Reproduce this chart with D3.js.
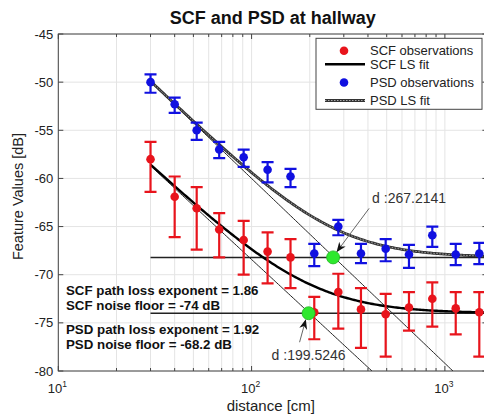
<!DOCTYPE html>
<html><head><meta charset="utf-8">
<script src="https://cdn.jsdelivr.net/npm/d3@7"></script>
<style>body{margin:0;background:#fff;} svg{display:block;font-family:"Liberation Sans",Arial,Helvetica,sans-serif;}</style>
</head><body><svg id="c" width="484" height="416"></svg>
<script>
// ---- data ----
const distances = [30, 40, 52, 68, 91, 121, 159, 211, 281, 368, 494, 652, 861, 1138, 1507];
const scfMean  = [-58.0, -61.9, -63.1, -65.3, -66.4, -67.6, -68.2, -73.9, -71.8, -73.6, -74.1, -73.4, -72.5, -73.5, -73.9];
const scfUpper = [-56.2, -59.8, -60.9, -63.6, -64.4, -65.6, -66.3, -72.3, -69.9, -71.4, -72.0, -71.8, -70.8, -71.8, -71.8];
const scfLower = [-61.4, -66.1, -67.4, -68.2, -70.0, -70.9, -71.4, -76.7, -75.6, -77.6, -78.5, -75.8, -75.4, -76.2, -78.5];
const psdMean  = [-50.0, -52.3, -55.0, -57.0, -57.8, -59.1, -59.8, -67.8, -65.0, -67.8, -67.3, -67.9, -65.9, -67.9, -67.8];
const psdUpper = [-49.2, -51.6, -54.2, -56.2, -57.0, -58.3, -59.0, -66.8, -64.3, -66.8, -66.3, -66.9, -65.0, -66.8, -66.7];
const psdLower = [-51.1, -53.2, -56.0, -57.9, -58.8, -60.4, -60.9, -69.1, -65.9, -68.8, -68.6, -69.3, -67.1, -69.0, -68.9];

const fitExponents   = [1.86, 1.92];        // SCF, PSD
const fitNoiseFloors = [-74, -68.2];        // SCF, PSD
const fitCrossings   = [199.5246, 267.2141];// SCF, PSD

const yTicks = [-80, -75, -70, -65, -60, -55, -50, -45];
const xMajorTicks = [10, 100, 1000];
const xTickExponents = ["1", "2", "3"];
const legendLabels = ["SCF observations", "SCF LS fit", "PSD observations", "PSD LS fit"];
const infoLines = ["SCF path loss exponent = 1.86", "SCF noise floor = -74 dB", "PSD path loss exponent = 1.92", "PSD noise floor = -68.2 dB"];
const crossLabels = ["d :199.5246", "d :267.2141"];

// ---- layout ----
const svg = d3.select("#c");
const L = 58.3, R = 487.4, T = 34, B = 371;
const x = d3.scaleLog().domain([10, Math.pow(10, 3.22)]).range([L, R]);
const y = d3.scaleLinear().domain([-80, -45]).range([B, T]);
const red = "#e8141c", blue = "#1010e0";

svg.append("defs").append("clipPath").attr("id", "clip")
  .append("rect").attr("x", L).attr("y", T).attr("width", R - L).attr("height", B - T);
const mk = svg.select("defs").append("marker").attr("id", "arr").attr("viewBox", "0 0 10 10")
  .attr("refX", 9).attr("refY", 5).attr("markerWidth", 10).attr("markerHeight", 10).attr("orient", "auto")
  .attr("markerUnits", "userSpaceOnUse");
mk.append("path").attr("d", "M0,1 L10,5 L0,9 L3,5 Z").attr("fill", "#111");

// grid
const minor = [];
[10, 100, 1000].forEach(p => { for (let k = 1; k <= 9; k++) { const v = p * k; if (v <= x.domain()[1]) minor.push(v); } });
const grid = svg.append("g");
grid.selectAll(".gx").data(minor).join("line")
  .attr("x1", d => x(d)).attr("x2", d => x(d)).attr("y1", T).attr("y2", B)
  .attr("stroke", "#e4e4e4").attr("stroke-width", 1);
grid.selectAll(".gy").data(yTicks).join("line")
  .attr("x1", L).attr("x2", R).attr("y1", d => y(d)).attr("y2", d => y(d))
  .attr("stroke", "#e4e4e4").attr("stroke-width", 1);

// axes box + ticks
const ax = svg.append("g").attr("stroke", "#444").attr("stroke-width", 1);
ax.append("rect").attr("x", L).attr("y", T).attr("width", R - L).attr("height", B - T).attr("fill", "none");
minor.forEach(d => {
  const len = xMajorTicks.includes(d) ? 5 : 3;
  ax.append("line").attr("x1", x(d)).attr("x2", x(d)).attr("y1", B).attr("y2", B - len);
  ax.append("line").attr("x1", x(d)).attr("x2", x(d)).attr("y1", T).attr("y2", T + len);
});
yTicks.forEach(d => {
  ax.append("line").attr("x1", L).attr("x2", L + 5).attr("y1", y(d)).attr("y2", y(d));
  ax.append("line").attr("x1", R).attr("x2", R - 5).attr("y1", y(d)).attr("y2", y(d));
});

// tick labels
svg.append("g").selectAll("text").data(yTicks).join("text")
  .attr("x", L - 5).attr("y", d => y(d) + 4.5).attr("text-anchor", "end")
  .attr("font-size", 13).attr("fill", "#222").text(d => d);
xMajorTicks.forEach((d, i) => {
  const t = svg.append("text").attr("x", x(d) - 1).attr("y", 393).attr("text-anchor", "middle")
    .attr("font-size", 13).attr("fill", "#222");
  t.append("tspan").text("10");
  t.append("tspan").attr("font-size", 8.5).attr("dy", -6).text(xTickExponents[i]);
});

// axis titles
svg.append("text").attr("x", (L + R) / 2 - 2).attr("y", 411).attr("text-anchor", "middle")
  .attr("font-size", 15).attr("fill", "#222").text("distance [cm]");
svg.append("text").attr("transform", `translate(23,${(T + B) / 2 - 6}) rotate(-90)`).attr("text-anchor", "middle")
  .attr("font-size", 14.5).attr("fill", "#222").text("Feature Values [dB]");
svg.append("text").attr("x", (L + R) / 2).attr("y", 24).attr("text-anchor", "middle")
  .attr("font-size", 18).attr("font-weight", "bold").attr("fill", "#111").text("SCF and PSD at hallway");

// model lines
const plot = svg.append("g").attr("clip-path", "url(#clip)");
const dStart = distances[0], dEnd = x.domain()[1];
const samples = d3.range(0, 201).map(i => dStart * Math.pow(dEnd / dStart, i / 200));
function pathLoss(k, d) { return fitNoiseFloors[k] - 10 * fitExponents[k] * Math.log10(d / fitCrossings[k]); }
function fitCurve(k, d) { return 10 * Math.log10(Math.pow(10, pathLoss(k, d) / 10) + Math.pow(10, fitNoiseFloors[k] / 10)); }
const line = d3.line().x(p => x(p[0])).y(p => y(p[1]));

[0, 1].forEach(k => {
  plot.append("path").attr("d", line([[dStart, fitNoiseFloors[k]], [dEnd, fitNoiseFloors[k]]]))
    .attr("stroke", "#222").attr("stroke-width", 1.5).attr("fill", "none");
  plot.append("path").attr("d", line(samples.map(d => [d, pathLoss(k, d)])))
    .attr("stroke", "#222").attr("stroke-width", 1).attr("fill", "none");
});
plot.append("path").attr("d", line(samples.map(d => [d, fitCurve(1, d)])))
  .attr("stroke", "#333").attr("stroke-width", 2.8).attr("fill", "none");
plot.append("path").attr("d", line(samples.map(d => [d, fitCurve(1, d)])))
  .attr("stroke", "#aaa").attr("stroke-width", 1).attr("stroke-dasharray", "1.5,1.5").attr("fill", "none");
plot.append("path").attr("d", line(samples.map(d => [d, fitCurve(0, d)])))
  .attr("stroke", "#000").attr("stroke-width", 2.4).attr("fill", "none");

// error bars + markers
function drawSeries(mean, up, lo, col) {
  const g = plot.append("g").attr("stroke", col).attr("stroke-width", 2.2);
  distances.forEach((d, i) => {
    const cx = x(d);
    g.append("line").attr("x1", cx).attr("x2", cx).attr("y1", y(up[i])).attr("y2", y(lo[i]));
    g.append("line").attr("x1", cx - 6).attr("x2", cx + 6).attr("y1", y(up[i])).attr("y2", y(up[i]));
    g.append("line").attr("x1", cx - 6).attr("x2", cx + 6).attr("y1", y(lo[i])).attr("y2", y(lo[i]));
  });
  plot.append("g").selectAll("circle").data(distances).join("circle")
    .attr("cx", d => x(d)).attr("cy", (d, i) => y(mean[i])).attr("r", 4.3).attr("fill", col);
}
drawSeries(scfMean, scfUpper, scfLower, red);
drawSeries(psdMean, psdUpper, psdLower, blue);

// crossing points
[0, 1].forEach(k => {
  svg.append("circle").attr("cx", x(fitCrossings[k]) - 1).attr("cy", y(fitNoiseFloors[k])).attr("r", 6.5)
    .attr("fill", "#2ee82e").attr("stroke", "#22b822").attr("stroke-width", 0.8);
});
// annotations
const gx0 = x(fitCrossings[0]) - 1, gy0 = y(fitNoiseFloors[0]);
svg.append("line").attr("x1", gx0 - 9).attr("y1", gy0 + 29).attr("x2", gx0 - 3).attr("y2", gy0 + 7)
  .attr("stroke", "#666").attr("stroke-width", 1).attr("marker-end", "url(#arr)");
svg.append("text").attr("x", gx0 - 37).attr("y", gy0 + 47).attr("font-size", 14).attr("fill", "#333").text(crossLabels[0]);
const gx1 = x(fitCrossings[1]) - 1, gy1 = y(fitNoiseFloors[1]);
svg.append("line").attr("x1", gx1 + 36).attr("y1", gy1 - 49).attr("x2", gx1 + 4).attr("y2", gy1 - 6)
  .attr("stroke", "#666").attr("stroke-width", 1).attr("marker-end", "url(#arr)");
svg.append("text").attr("x", gx1 + 39).attr("y", gy1 - 54).attr("font-size", 14).attr("fill", "#333").text(crossLabels[1]);

// info text
const infoY = [294.5, 310, 334, 349];
infoLines.forEach((t, i) => svg.append("text").attr("x", 66).attr("y", infoY[i]).attr("font-size", 13.3)
  .attr("font-weight", "bold").attr("fill", "#111").text(t));

// legend
const lg = svg.append("g");
lg.append("rect").attr("x", 316).attr("y", 38.3).attr("width", 166).attr("height", 71)
  .attr("fill", "#fff").attr("stroke", "#444").attr("stroke-width", 1);
const ly = [50.7, 64.2, 82.5, 100.5];
lg.append("circle").attr("cx", 344).attr("cy", ly[0]).attr("r", 4.3).attr("fill", red);
lg.append("line").attr("x1", 325).attr("x2", 365).attr("y1", ly[1]).attr("y2", ly[1]).attr("stroke", "#000").attr("stroke-width", 2.4);
lg.append("circle").attr("cx", 344).attr("cy", ly[2]).attr("r", 4.3).attr("fill", blue);
lg.append("line").attr("x1", 325).attr("x2", 365).attr("y1", ly[3]).attr("y2", ly[3]).attr("stroke", "#333").attr("stroke-width", 2.8);
lg.append("line").attr("x1", 325).attr("x2", 365).attr("y1", ly[3]).attr("y2", ly[3]).attr("stroke", "#aaa").attr("stroke-width", 1).attr("stroke-dasharray", "1.5,1.5");
legendLabels.forEach((t, i) => lg.append("text").attr("x", 370).attr("y", ly[i] + 4.5).attr("font-size", 13)
  .attr("fill", "#222").text(t));
</script></body></html>
